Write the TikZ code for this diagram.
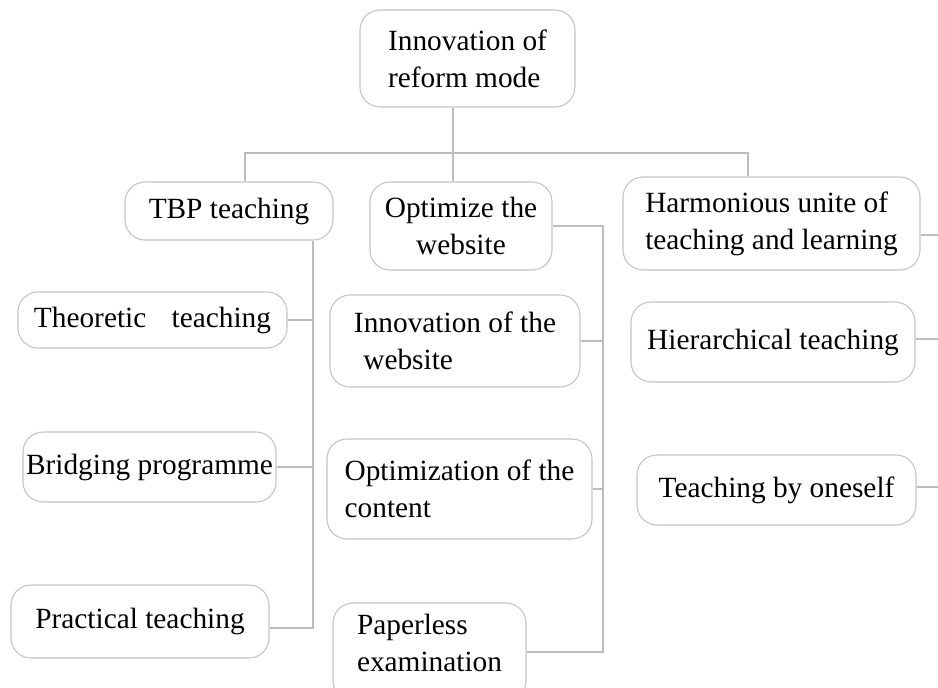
\documentclass[tikz,border=0pt]{standalone}
\usepackage{fontspec}
\setmainfont{LiberationSerif}[Extension=.ttf, UprightFont=*-Regular, BoldFont=*-Bold]
\newfontfamily\tnr{LiberationSerif}[Extension=.ttf, UprightFont=*-Regular]
\definecolor{edgegray}{HTML}{C4C4C4}
\definecolor{linegray}{HTML}{BDBDBD}
\tikzset{
  box/.style={draw=edgegray, line width=0.8pt, rounded corners=15pt, inner sep=0pt,
              font=\tnr\fontsize{22}{27.5}\selectfont, text=black},
  conn/.style={draw=linegray, line width=0.8pt}
}
% \bx{name}{x1}{y1}{x2}{y2}{options}{text}
\newcommand{\bx}[7]{%
  \pgfmathsetmacro{\bxcx}{(#2+#4)/2}%
  \pgfmathsetmacro{\bxcy}{(#3+#5)/2}%
  \pgfmathsetmacro{\bxw}{(#4-#2)*0.75}%
  \pgfmathsetmacro{\bxh}{(#5-#3)*0.75}%
  \node[box, minimum width=\bxw pt, minimum height=\bxh pt, #6] (#1) at (\bxcx,\bxcy) {#7};%
}
\begin{document}
\begin{tikzpicture}[x=0.75pt, y=-0.75pt]
\useasboundingbox (0,0) rectangle (938,687);
% boxes
\bx{root}{360}{10}{575}{107}{align=left}{Innovation of\\reform mode}
\bx{tbp}{125}{182}{333}{240}{}{TBP teaching}
\bx{opt}{370}{182}{552}{270}{align=center}{Optimize the\\website}
\bx{harm}{623}{177}{920}{270}{align=left}{Harmonious unite of\\teaching and learning}
\bx{theo}{18}{292}{287}{348}{}{Theoretic\hspace{19pt}teaching}
\bx{brid}{23}{432}{276}{502}{}{Bridging programme}
\bx{prac}{11}{585}{269}{658}{}{Practical teaching}
\bx{inn}{330}{295}{580}{387}{align=left}{Innovation of the\\\hspace*{7pt}website}
\bx{optc}{327}{439}{592}{539}{align=left}{Optimization of the\\content}
\bx{pap}{333}{603}{526}{701}{}{}
\node[font=\tnr\fontsize{22}{27.5}\selectfont, align=left, inner sep=0pt] (paptxt) at (429.5,643) {Paperless\\examination};
\bx{hier}{631}{302}{915}{382}{}{Hierarchical teaching}
\bx{self}{637}{455}{916}{525}{}{Teaching by oneself\hspace{12pt}}
% junction coordinates
\coordinate (j1) at (245,153);
\coordinate (j2) at (453,153);
\coordinate (j3) at (748,153);
\coordinate (s1) at (313,628);
\coordinate (s2) at (603,652);
\coordinate (e1) at (938,235);
\coordinate (e2) at (938,339);
\coordinate (e3) at (938,487);
% top tree
\draw[conn] (j2 |- root.south) -- (j2);
\draw[conn] (tbp.north -| j1) -- (j1) -- (j3) -- (harm.north -| j3);
\draw[conn] (opt.north -| j2) -- (j2);
% TBP branch
\draw[conn] (tbp.south -| s1) -- (s1) -- (s1 -| prac.east);
\draw[conn] (theo.east) -- (theo.east -| s1);
\draw[conn] (brid.east) -- (brid.east -| s1);
% Optimize branch
\draw[conn] (opt.east) -- (opt.east -| s2) -- (s2) -- (s2 -| pap.east);
\draw[conn] (inn.east) -- (inn.east -| s2);
\draw[conn] (optc.east) -- (optc.east -| s2);
% right branch stubs
\draw[conn] (harm.east |- e1) -- (e1);
\draw[conn] (hier.east |- e2) -- (e2);
\draw[conn] (self.east |- e3) -- (e3);
\end{tikzpicture}
\end{document}
